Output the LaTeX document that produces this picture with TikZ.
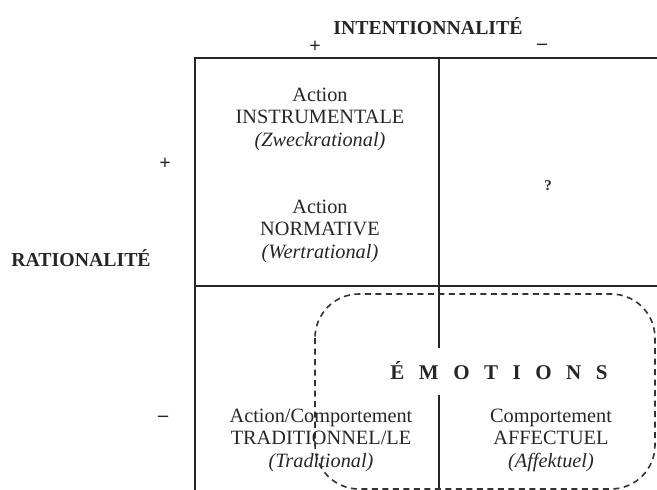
\documentclass[tikz,border=0pt]{standalone}
\usepackage{fontspec}
\setmainfont{Liberation Serif}
\begin{document}
\begin{tikzpicture}[x=1pt,y=-1pt,
  frame/.style={line width=1.5pt, black!85},
  emoline/.style={line width=1.6pt, black!80, dash pattern=on 6pt off 4.5pt, rounded corners=44pt},
  cell/.style={align=center, font=\fontsize{20.3}{22.5}\selectfont, inner sep=0pt, text=black!85},
  axis/.style={font=\fontsize{19.8}{22}\selectfont\bfseries, inner sep=0pt, text=black!85},
  sign/.style={font=\fontsize{20}{22}\selectfont\bfseries, inner sep=0pt, text=black!85}]
\useasboundingbox (0,0) rectangle (657,490);
% frame coordinates
\coordinate (tl) at (195,58);
\coordinate (tr) at (657,58);
\coordinate (tm) at (439,58);
\coordinate (ml) at (195,286);
\coordinate (mr) at (657,286);
\coordinate (mm) at (439,286);
\coordinate (bl) at (195,490);
\coordinate (gapA) at (439,348);
\coordinate (gapB) at (439,395);
\coordinate (bm) at (439,490);
\draw[frame] (bl) -- (tl) -- (tr);
\draw[frame] (ml) -- (mr);
\draw[frame] (tm) -- (mm) -- (gapA);
\draw[frame] (gapB) -- (bm);
% emotions region
\coordinate (e1) at (315,294);
\coordinate (e2) at (655,489);
\draw[emoline] (e1) rectangle (e2);
% axis labels
\node[axis] (intent) at (428,26) {INTENTIONNALITÉ};
\node[sign] (iplus) at (315,47) {+};
\node[sign] (iminus) at (542,47) {–};
\node[axis] (ratio) at (81,258) {RATIONALITÉ};
\node[sign] (rplus) at (165,164) {+};
\node[sign] (rminus) at (163,419) {–};
% cells
\node[cell] (instr) at (320,119) {Action\\INSTRUMENTALE\\\textit{(Zweckrational)}};
\node[cell] (norm) at (320,231) {Action\\NORMATIVE\\\textit{(Wertrational)}};
\node[sign, font=\fontsize{15}{18}\selectfont\bfseries] (q) at (548,186) {?};
\node[cell] (trad) at (321,440) {Action/Comportement\\TRADITIONNEL/LE\\\textit{(Traditional)}};
\node[cell] (affect) at (551,440) {Comportement\\AFFECTUEL\\\textit{(Affektuel)}};
\node[inner sep=0pt, text=black!85, font=\fontsize{21}{24}\selectfont\bfseries] (emo) at (499,371)
  {É\hspace{14.5pt}M\hspace{14.5pt}O\hspace{14.5pt}T\hspace{14.5pt}I\hspace{14.5pt}O\hspace{14.5pt}N\hspace{14.5pt}S};
\end{tikzpicture}
\end{document}
